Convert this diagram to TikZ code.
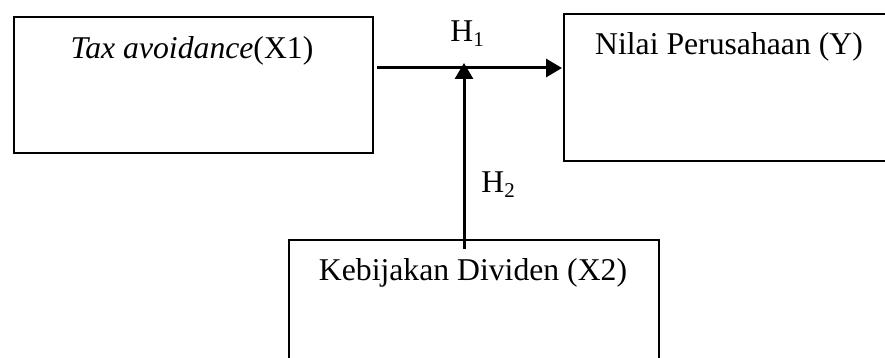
\documentclass[tikz,border=0pt]{standalone}
\usepackage{fontspec}
\setmainfont{Liberation Serif}
\usetikzlibrary{arrows.meta,calc}
\tikzset{
  box/.style={draw=black, line width=1pt, rectangle, anchor=north west, inner sep=0pt},
  lbl/.style={anchor=base, inner sep=0pt, font=\fontsize{15.85}{19}\selectfont},
  arr/.style={line width=1.5pt, -{Triangle[length=8pt,width=9pt]}}
}
\newcommand{\subsc}[1]{\raisebox{-2.2pt}{\fontsize{10.5}{12}\selectfont #1}}
\begin{document}
\begin{tikzpicture}[x=0.5pt,y=-0.5pt]
\useasboundingbox (0,0) rectangle (885,358);
\clip (0,0) rectangle (885,358);
\node[box, minimum width=179.5pt, minimum height=68pt] (x1) at (13,16) {};
\node[box, minimum width=200pt, minimum height=73.5pt] (y) at (563,13) {};
\node[box, minimum width=185pt, minimum height=100pt] (x2) at (288,239) {};
\node[lbl] (tx1) at (192,59) {\textit{Tax avoidance}(X1)};
\node[lbl] (ty) at (729,55) {Nilai Perusahaan (Y)};
\node[lbl] (tx2) at (473,280) {Kebijakan Dividen (X2)};
\node[lbl, anchor=base west] (h1) at (450,42) {H\subsc{1}};
\node[lbl, anchor=base west] (h2) at (481,193) {H\subsc{2}};
\coordinate (j) at (464,68);
\coordinate (jt) at (464,63);
\draw[arr] ($(x1.east |- j)+(3,0)$) -- ($(y.west |- j)+(-1,0)$);
\draw[arr] ($(x2.north -| jt)+(0,10)$) -- (jt);
\end{tikzpicture}
\end{document}
